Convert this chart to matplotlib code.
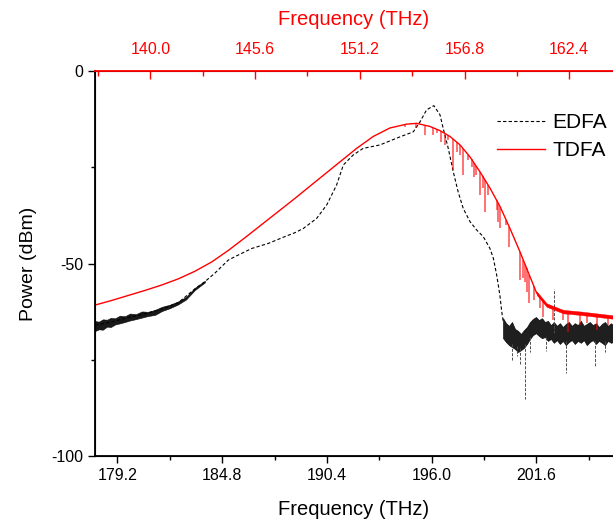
import numpy as np
import matplotlib
matplotlib.use('Agg')
import matplotlib.pyplot as plt
from matplotlib.ticker import MultipleLocator, FormatStrFormatter

plt.rcParams['font.family'] = ['Liberation Sans', 'DejaVu Sans']
plt.rcParams['axes.unicode_minus'] = False

# EDFA spectrum (bottom axis, THz / dBm)
edfa_f = [178.00, 178.89, 179.78, 180.67, 181.56, 182.45, 183.34, 183.88, 184.41,
          185.13, 185.66, 186.38, 187.26, 188.16, 188.69, 189.14, 189.85, 190.39,
          190.92, 191.28, 191.81, 192.34, 193.24, 194.31, 195.02, 195.38, 195.73,
          196.12, 196.45, 196.62, 196.89, 197.16, 197.42, 197.69, 198.05, 198.41,
          198.76, 199.12, 199.30, 199.48, 199.65, 199.75, 199.83]
edfa_p = [-66.0, -65.2, -64.0, -63.1, -61.8, -60.2, -56.6, -54.7, -52.5,
          -49.1, -47.8, -46.1, -44.8, -43.0, -42.0, -40.9, -38.3, -34.8,
          -29.6, -24.4, -21.8, -20.1, -19.2, -17.1, -15.8, -13.2, -10.1,
          -9.0, -11.4, -14.9, -20.1, -26.2, -31.4, -35.7, -39.1, -41.3,
          -43.0, -46.1, -48.6, -53.0, -58.2, -62.5, -65.1]

# EDFA noise band on the low-frequency side
edfa_lo_f = [178.00, 178.21, 178.42, 178.64, 178.85, 179.07, 179.33, 179.60, 179.87,
             180.19, 180.51, 180.83, 181.21, 181.58, 182.01, 182.44, 182.87, 183.34,
             183.88]
edfa_lo_up = [-64.95, -65.1, -64.5, -64.6, -64.1, -64.25, -63.55, -63.7, -63.0,
              -63.15, -62.45, -62.55, -62.05, -61.25, -60.7, -59.85, -58.65, -56.3,
              -54.5]
edfa_lo_dn = [-67.55, -67.1, -67.2, -66.4, -66.5, -65.85, -65.55, -65.2, -64.8,
              -64.45, -64.05, -63.65, -63.35, -62.35, -61.6, -60.65, -59.35, -56.9,
              -54.9]

# EDFA noise floor band on the high-frequency side
floor_f = [199.82, 199.98, 200.14, 200.30, 200.46, 200.62, 200.78, 200.94, 201.10,
           201.26, 201.42, 201.58, 201.74, 201.90, 202.06, 202.22, 202.38, 202.54,
           202.70, 202.86, 203.02, 203.18, 203.34, 203.50, 203.66, 203.82, 203.98,
           204.14, 204.30, 204.46, 204.62, 204.79, 204.95, 205.11, 205.27, 205.43,
           205.59, 205.70]
floor_up = [-64.2, -65.5, -66.2, -65.2, -67.0, -67.5, -68.3, -67.3, -66.5,
            -65.2, -64.4, -63.9, -64.7, -64.2, -65.2, -64.9, -66.0, -65.2,
            -66.2, -65.5, -66.5, -65.7, -65.2, -66.2, -65.5, -66.0, -64.9,
            -66.2, -65.7, -65.2, -66.0, -65.5, -66.5, -65.7, -65.2, -66.2,
            -65.5, -66.0]
floor_dn = [-69.4, -70.4, -71.2, -71.7, -72.2, -73.0, -72.5, -71.9, -70.9,
            -69.6, -68.6, -68.1, -68.8, -69.4, -69.1, -70.1, -69.6, -70.6,
            -69.9, -70.9, -70.1, -71.2, -70.4, -69.9, -70.9, -70.1, -70.6,
            -69.9, -71.2, -70.4, -69.9, -70.9, -70.1, -70.6, -71.2, -70.1,
            -70.6, -70.4]

# isolated spikes in the EDFA floor
spike_f = [200.30, 200.56, 200.72, 200.99, 201.26, 202.13, 202.56, 203.21, 204.76, 205.25]
spike_base = [-71.0, -71.5, -72.0, -71.0, -69.0, -69.0, -68.0, -70.0, -70.0, -70.0]
spike_p = [-75.0, -74.0, -76.0, -85.2, -73.0, -72.7, -56.5, -78.4, -77.0, -73.0]

# TDFA spectrum (top axis, THz / dBm)
tdfa_f = [137.04, 137.93, 138.82, 139.71, 140.60, 141.49, 142.39, 143.28, 144.17,
          145.06, 145.95, 146.84, 147.73, 148.36, 149.25, 150.14, 151.03, 151.92,
          152.81, 153.71, 154.24, 154.95, 155.49, 156.02, 156.56, 157.09, 157.63,
          158.16, 158.70, 159.23, 159.76, 160.30, 160.66, 161.19, 162.08, 162.97,
          164.74]
tdfa_p = [-60.8, -59.6, -58.3, -57.0, -55.6, -54.0, -52.0, -49.6, -46.6,
          -43.3, -39.9, -36.5, -33.1, -30.6, -27.1, -23.6, -20.1, -17.0,
          -14.8, -13.8, -13.6, -14.4, -15.5, -17.0, -19.2, -22.3, -26.2,
          -30.4, -35.2, -40.9, -46.9, -53.4, -57.7, -60.8, -62.5, -62.9,
          -63.9]

# absorption dips on the TDFA spectrum
dip_f = [153.61, 154.20, 154.68, 155.11, 155.31, 155.52, 155.75, 155.93, 156.17,
         156.38, 156.56, 156.73, 157.00, 157.18, 157.30, 157.41, 157.63, 157.77,
         157.89, 158.07, 158.52, 158.60, 158.70, 159.02, 159.19, 159.76, 159.94,
         160.03, 160.12, 160.26, 160.51, 160.83, 161.01, 161.53, 162.08, 162.35,
         162.97, 163.35, 163.88, 164.47]
dip_p = [-14.5, -14.8, -16.6, -16.6, -16.2, -18.4, -19.2, -17.9, -25.7,
         -21.0, -21.8, -27.0, -23.1, -24.9, -27.5, -27.0, -32.2, -30.5,
         -36.6, -32.2, -36.1, -39.1, -40.9, -40.0, -45.6, -54.3, -53.8,
         -54.7, -57.3, -60.3, -59.5, -61.6, -63.8, -64.7, -64.7, -67.7,
         -66.0, -65.5, -67.3, -66.0]

fig = plt.figure(figsize=(6.13, 5.22), dpi=100)
ax = fig.add_axes([95 / 613, 1 - 456 / 522, 518 / 613, 385 / 522])
ax2 = ax.twiny()

# EDFA
l_edfa, = ax.plot(edfa_f, edfa_p, color='black', lw=0.8, ls=(0, (3, 2)))
ax.fill_between(edfa_lo_f, edfa_lo_dn, edfa_lo_up, color='black', lw=0.4, alpha=0.9)
ax.fill_between(floor_f, floor_dn, floor_up, color='black', lw=0.5, alpha=0.88)
ax.vlines(spike_f, spike_base, spike_p, color='0.3', lw=0.7, linestyles=(0, (3, 1.5)))

# TDFA
l_tdfa, = ax2.plot(tdfa_f, tdfa_p, color='red', lw=1.0)
base = np.interp(dip_f, tdfa_f, tdfa_p)
ax2.vlines(dip_f, base, dip_p, color='red', lw=1.1, alpha=0.7)
tail = [f for f in tdfa_f if f >= 160.6]
tail_p = np.interp(tail, tdfa_f, tdfa_p)
ax2.fill_between(tail, tail_p - 0.45, tail_p + 0.45, color='red', lw=0.3)

ax.set_xlim(178.0, 205.7)
ax2.set_xlim(137.04, 164.74)
ax.set_ylim(-100, 0)

ax.xaxis.set_major_locator(MultipleLocator(5.6))
ax.xaxis.set_minor_locator(MultipleLocator(2.8))
ax.xaxis.set_major_formatter(FormatStrFormatter('%.1f'))
ax2.xaxis.set_major_locator(MultipleLocator(5.6))
ax2.xaxis.set_minor_locator(MultipleLocator(2.8))
ax2.xaxis.set_major_formatter(FormatStrFormatter('%.1f'))
ax.yaxis.set_major_locator(MultipleLocator(50))
ax.yaxis.set_minor_locator(MultipleLocator(25))

ax.tick_params(axis='x', which='major', direction='out', length=5, width=1, labelsize=11.5, pad=4)
ax.tick_params(axis='x', which='minor', direction='out', length=3, width=1)
ax.tick_params(axis='y', which='major', direction='out', length=5, width=1, labelsize=11.5)
ax.tick_params(axis='y', which='minor', direction='out', length=3, width=1)
ax.tick_params(top=False, right=False)
ax2.tick_params(axis='x', which='major', direction='in', length=6, width=1,
                colors='red', labelsize=11.5, pad=10)
ax2.tick_params(axis='x', which='minor', direction='in', length=3.5, width=1, colors='red')

ax.spines['right'].set_visible(False)
ax2.spines['right'].set_visible(False)
ax2.spines['top'].set_color('red')
ax2.spines['top'].set_linewidth(1.3)
ax.spines['bottom'].set_linewidth(1.3)
ax.spines['left'].set_linewidth(1.3)

ax.set_xlabel('Frequency (THz)', fontsize=14.5, labelpad=12)
ax.set_ylabel('Power (dBm)', fontsize=14, labelpad=10)
ax2.set_xlabel('Frequency (THz)', fontsize=14.5, color='red', labelpad=12)

ax2.legend([l_edfa, l_tdfa], ['EDFA', 'TDFA'], loc='upper right',
           bbox_to_anchor=(1.025, 0.94), frameon=False, fontsize=15,
           handlelength=2.3, handletextpad=0.35, labelspacing=0.45)

fig.savefig('out.png', dpi=100)
